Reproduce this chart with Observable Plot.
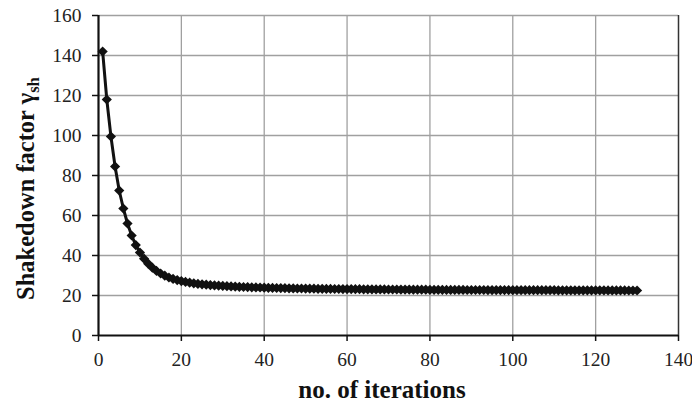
<!DOCTYPE html>
<html>
<head>
<meta charset="utf-8">
<script src="https://cdn.jsdelivr.net/npm/d3@7"></script>
<script src="https://cdn.jsdelivr.net/npm/@observablehq/plot@0.6"></script>
<style>
  html, body { margin: 0; padding: 0; background: #fff; }
</style>
</head>
<body>
<div id="chart"></div>
<script>
const iterations = [
  1,2,3,4,5,6,7,8,9,10,
  11,12,13,14,15,16,17,18,19,20,
  21,22,23,24,25,26,27,28,29,30,
  31,32,33,34,35,36,37,38,39,40,
  41,42,43,44,45,46,47,48,49,50,
  51,52,53,54,55,56,57,58,59,60,
  61,62,63,64,65,66,67,68,69,70,
  71,72,73,74,75,76,77,78,79,80,
  81,82,83,84,85,86,87,88,89,90,
  91,92,93,94,95,96,97,98,99,100,
  101,102,103,104,105,106,107,108,109,110,
  111,112,113,114,115,116,117,118,119,120,
  121,122,123,124,125,126,127,128,129,130
];
const shakedownFactor = [
  142,118,99.5,84.5,72.5,63.5,56,50,45.2,41.5,
  38.4,35.9,33.9,32.3,31,29.9,29,28.3,27.7,27.2,
  26.8,26.4,26.1,25.8,25.6,25.4,25.2,25.05,24.9,24.8,
  24.65,24.55,24.45,24.35,24.25,24.2,24.1,24.05,24,23.9,
  23.85,23.8,23.75,23.7,23.65,23.6,23.55,23.5,23.5,23.45,
  23.4,23.4,23.35,23.35,23.3,23.3,23.25,23.25,23.2,23.2,
  23.2,23.15,23.15,23.1,23.1,23.1,23.05,23.05,23.05,23,
  23,23,22.95,22.95,22.95,22.9,22.9,22.9,22.9,22.85,
  22.85,22.85,22.85,22.8,22.8,22.8,22.8,22.8,22.75,22.75,
  22.75,22.75,22.75,22.7,22.7,22.7,22.7,22.7,22.7,22.65,
  22.65,22.65,22.65,22.65,22.65,22.65,22.65,22.65,22.65,22.65,
  22.6,22.6,22.6,22.6,22.6,22.6,22.6,22.6,22.6,22.6,
  22.6,22.6,22.55,22.55,22.55,22.55,22.55,22.5,22.5,22.5
];
const xTicks = [0,20,40,60,80,100,120,140];
const yTicks = [0,20,40,60,80,100,120,140,160];
const xTitle = "no. of iterations";
const yTitle = "Shakedown factor γ";
const yTitleSub = "sh";

const data = iterations.map((x, i) => ({x, y: shakedownFactor[i]}));

const chart = Plot.plot({
  width: 692,
  height: 403,
  marginLeft: 98,
  marginRight: 14,
  marginTop: 15,
  marginBottom: 68,
  style: {
    fontFamily: "'Liberation Serif', 'Times New Roman', serif",
    fontSize: "19px",
    color: "#222",
    background: "#fff"
  },
  x: {domain: [0, 140]},
  y: {domain: [0, 160]},
  marks: [
    Plot.gridX(xTicks.filter(d => d > 0 && d < 140), {stroke: "#a0a0a0", strokeOpacity: 1, strokeWidth: 1.3}),
    Plot.gridY(yTicks.filter(d => d > 0), {stroke: "#a0a0a0", strokeOpacity: 1, strokeWidth: 1.3}),
    Plot.ruleX([140], {stroke: "#333", strokeWidth: 1.5}),
    Plot.axisX({ticks: xTicks, tickSize: 6, tickPadding: 11, fontSize: 19.5, stroke: "#111", strokeWidth: 1.5, label: null}),
    Plot.axisY({ticks: yTicks, tickSize: 6, tickPadding: 11, fontSize: 19.5, stroke: "#111", strokeWidth: 1.5, label: null}),
    Plot.ruleX([0], {stroke: "#111", strokeWidth: 2.2}),
    Plot.ruleY([0], {stroke: "#111", strokeWidth: 2.2}),
    Plot.line(data, {x: "x", y: "y", stroke: "#111", strokeWidth: 3}),
    Plot.dot(data, {x: "x", y: "y", symbol: "diamond2", r: 4.6, fill: "#111", stroke: "none"}),
    Plot.text([xTitle], {frameAnchor: "bottom", textAnchor: "middle", lineAnchor: "middle", text: d => d, dy: 54, dx: -6.5, fontSize: 25, fontWeight: "bold", fill: "#111", className: "xtitle"}),
    Plot.text([yTitle], {frameAnchor: "left", textAnchor: "middle", lineAnchor: "middle", text: d => d, rotate: -90, dx: -72.7, dy: 13, fontSize: 24.5, fontWeight: "bold", fill: "#111", className: "ytitle"})
  ]
});

d3.select(chart).select(".ytitle text")
  .append("tspan")
  .attr("font-size", "0.68em")
  .attr("dy", "0.3em")
  .text(yTitleSub);

document.getElementById("chart").appendChild(chart);
</script>
</body>
</html>
